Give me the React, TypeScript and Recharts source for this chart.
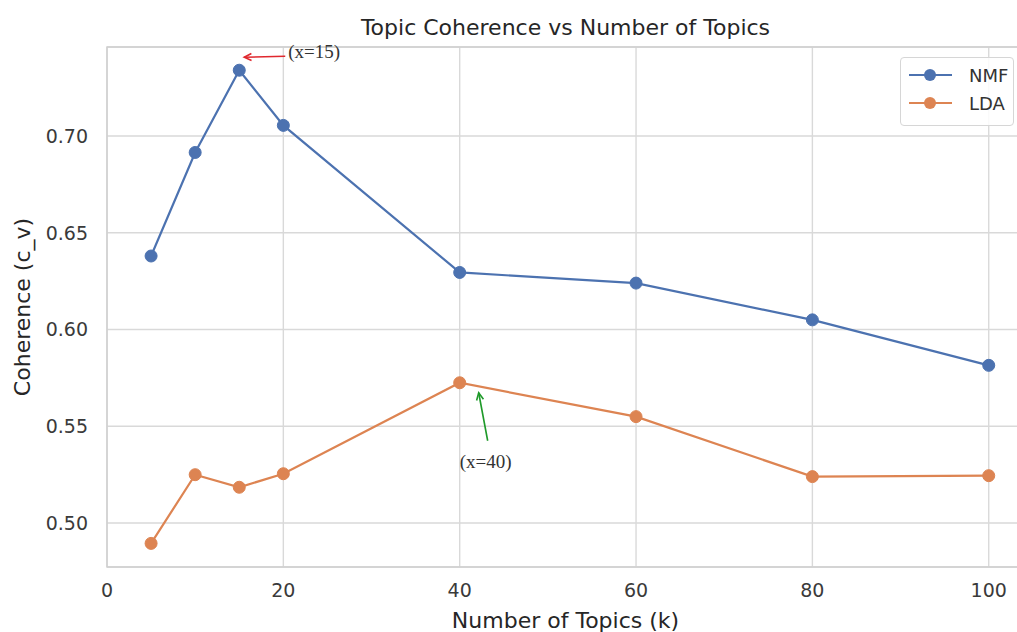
import React from 'react';
import {
  LineChart,
  Line,
  XAxis,
  YAxis,
  CartesianGrid,
  Legend,
  Label,
  ReferenceArea,
  ReferenceDot,
} from 'recharts';

// values
const topics = [5, 10, 15, 20, 40, 60, 80, 100];
const nmfScores = [0.638, 0.6915, 0.734, 0.7055, 0.6295, 0.624, 0.605, 0.5815];
const ldaScores = [0.4895, 0.525, 0.5185, 0.5255, 0.5725, 0.555, 0.524, 0.5245];
const xTicks = [0, 20, 40, 60, 80, 100];
const yTicks = [0.5, 0.55, 0.6, 0.65, 0.7];

const X_DOMAIN: [number, number] = [0, 104];
const Y_DOMAIN: [number, number] = [0.4773, 0.746];

const NMF_COLOR = '#4c72b0';
const LDA_COLOR = '#dd8452';
const FONT = '"DejaVu Sans", sans-serif';
const SERIF = '"Liberation Serif", "DejaVu Serif", serif';

const data = topics.map((k, i) => ({ k, nmf: nmfScores[i], lda: ldaScores[i] }));

const series = [
  { key: 'nmf', name: 'NMF', color: NMF_COLOR },
  { key: 'lda', name: 'LDA', color: LDA_COLOR },
];

function Arrow({ x1, y1, x2, y2, color }: { x1: number; y1: number; x2: number; y2: number; color: string }) {
  const ang = Math.atan2(y2 - y1, x2 - x1);
  const len = 8;
  const spread = 0.45;
  const p1 = [x2 - len * Math.cos(ang - spread), y2 - len * Math.sin(ang - spread)];
  const p2 = [x2 - len * Math.cos(ang + spread), y2 - len * Math.sin(ang + spread)];
  return (
    <g stroke={color} strokeWidth={1.6} fill="none">
      <line x1={x1} y1={y1} x2={x2} y2={y2} />
      <polyline points={`${p1[0]},${p1[1]} ${x2},${y2} ${p2[0]},${p2[1]}`} />
    </g>
  );
}

const peakNote = (props: any) => {
  const { cx, cy } = props;
  return (
    <g>
      <Arrow x1={cx + 46} y1={cy - 14} x2={cx + 5} y2={cy - 13} color="#e0282e" />
      <text x={cx + 49} y={cy - 12} fontFamily={SERIF} fontSize={19} fill="#333">
        (x=15)
      </text>
    </g>
  );
};

const ldaNote = (props: any) => {
  const { cx, cy } = props;
  return (
    <g>
      <Arrow x1={cx + 28} y1={cy + 58} x2={cx + 19} y2={cy + 10} color="#1f9a2a" />
      <text x={cx} y={cy + 85} fontFamily={SERIF} fontSize={19} fill="#333">
        (x=40)
      </text>
    </g>
  );
};

const renderLegend = () => (
  <div
    style={{
      width: 114,
      height: 69,
      boxSizing: 'border-box',
      border: '1px solid #d6d6d6',
      borderRadius: 4,
      background: 'rgba(255,255,255,0.85)',
      fontFamily: FONT,
      fontSize: 18,
      color: '#333',
      padding: '3px 0 0 7px',
      whiteSpace: 'nowrap',
    }}
  >
    {series.map((s) => (
      <div key={s.key} style={{ display: 'flex', alignItems: 'center', height: 28 }}>
        <svg width={46} height={14} style={{ marginRight: 15, flexShrink: 0 }}>
          <line x1={1} y1={7} x2={44} y2={7} stroke={s.color} strokeWidth={2} />
          <circle cx={22} cy={7} r={6} fill={s.color} />
        </svg>
        <span>{s.name}</span>
      </div>
    ))}
  </div>
);

export default function App() {
  return (
    <div
      style={{
        position: 'fixed',
        top: 0,
        left: 0,
        width: 1017,
        height: 632,
        overflow: 'hidden',
        background: '#fff',
      }}
    >
      <div
        style={{
          position: 'absolute',
          top: 15,
          left: 107,
          width: 917,
          textAlign: 'center',
          fontFamily: FONT,
          fontSize: 22,
          color: '#262626',
        }}
      >
        Topic Coherence vs Number of Topics
      </div>
      <LineChart
        width={1030}
        height={632}
        data={data}
        margin={{ top: 47, right: 6, left: 0, bottom: 0 }}
      >
        <CartesianGrid stroke="#d9d9d9" strokeWidth={1.4} />
        <ReferenceArea
          x1={X_DOMAIN[0]}
          x2={X_DOMAIN[1]}
          y1={Y_DOMAIN[0]}
          y2={Y_DOMAIN[1]}
          fill="none"
          stroke="#cfcfcf"
          strokeWidth={1.4}
        />
        <XAxis
          dataKey="k"
          type="number"
          domain={X_DOMAIN}
          ticks={xTicks}
          allowDataOverflow
          axisLine={false}
          tickLine={false}
          tickSize={0}
          tickMargin={17}
          height={65}
          tick={{ fontSize: 19, fontFamily: FONT, fill: '#3a3a3a' }}
        >
          <Label
            value="Number of Topics (k)"
            position="insideBottom"
            offset={4}
            style={{ fontSize: 22, fontFamily: FONT, fill: '#262626' }}
          />
        </XAxis>
        <YAxis
          type="number"
          domain={Y_DOMAIN}
          ticks={yTicks}
          allowDataOverflow
          width={107}
          axisLine={false}
          tickLine={false}
          tickSize={0}
          tickMargin={19}
          tickFormatter={(v: number) => v.toFixed(2)}
          tick={{ fontSize: 19, fontFamily: FONT, fill: '#3a3a3a' }}
        >
          <Label
            value="Coherence (c_v)"
            angle={-90}
            position="insideLeft"
            offset={22}
            style={{ fontSize: 22, fontFamily: FONT, fill: '#262626', textAnchor: 'middle' }}
          />
        </YAxis>
        <Legend
          verticalAlign="middle"
          align="center"
          layout="horizontal"
          content={renderLegend}
          wrapperStyle={{ position: 'absolute', top: 57, left: 900, width: 114 }}
        />
        {series.map((s) => (
          <Line
            key={s.key}
            type="linear"
            dataKey={s.key}
            name={s.name}
            stroke={s.color}
            strokeWidth={2.2}
            dot={{ r: 6, fill: s.color, stroke: s.color, strokeWidth: 1 }}
            activeDot={false}
            isAnimationActive={false}
          />
        ))}
        <ReferenceDot x={15} y={nmfScores[2]} shape={peakNote} />
        <ReferenceDot x={40} y={ldaScores[4]} shape={ldaNote} />
      </LineChart>
    </div>
  );
}
